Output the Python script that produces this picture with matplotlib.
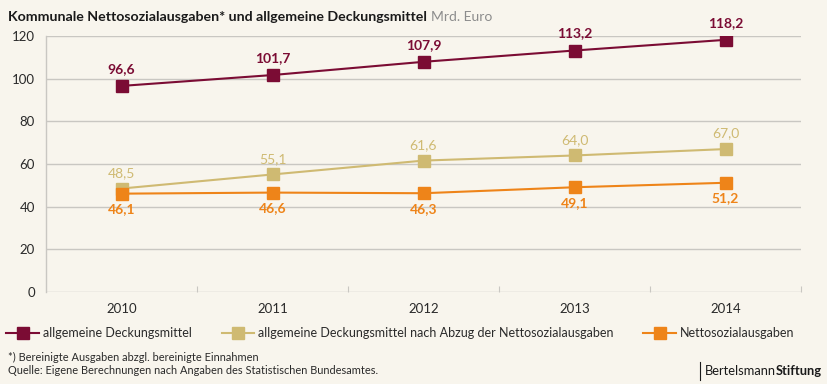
import matplotlib
matplotlib.use("Agg")
import matplotlib.pyplot as plt
from matplotlib.lines import Line2D

plt.rcParams['font.family'] = ['Lato', 'DejaVu Sans']

years = ["2010", "2011", "2012", "2013", "2014"]
deckung = [96.6, 101.7, 107.9, 113.2, 118.2]
nach_abzug = [48.5, 55.1, 61.6, 64.0, 67.0]
netto = [46.1, 46.6, 46.3, 49.1, 51.2]
yticks = [0, 20, 40, 60, 80, 100, 120]

names = ["allgemeine Deckungsmittel",
         "allgemeine Deckungsmittel nach Abzug der Nettosozialausgaben",
         "Nettosozialausgaben"]
colors = ["#7b0c34", "#cfba72", "#ee8419"]
bg = "#f8f5ed"
grid = "#c9c7c2"
txt = "#2a2a2a"

fig = plt.figure(figsize=(8.28, 3.84), dpi=100, facecolor=bg)
ax = fig.add_axes([46/828, 1-292/384, (801-46)/828, (292-36)/384])
ax.set_facecolor(bg)

x = list(range(len(years)))
series = [deckung, nach_abzug, netto]
for vals, c in zip(series, colors):
    ax.plot(x, vals, color=c, lw=1.5, marker="s", ms=8.5, zorder=3)

def fmt(v):
    return f"{v:.1f}".replace(".", ",")

for xi, v in zip(x, deckung):
    ax.annotate(fmt(v), (xi, v), xytext=(0, 8), textcoords="offset points",
                ha="center", va="bottom", color=colors[0], fontsize=10, fontweight="bold")
for xi, v in zip(x, nach_abzug):
    ax.annotate(fmt(v), (xi, v), xytext=(0, 7), textcoords="offset points",
                ha="center", va="bottom", color=colors[1], fontsize=10)
for xi, v in zip(x, netto):
    ax.annotate(fmt(v), (xi, v), xytext=(0, -7), textcoords="offset points",
                ha="center", va="top", color=colors[2], fontsize=10, fontweight="bold")

ax.set_xlim(-0.5, len(years) - 0.5)
ax.set_ylim(0, 120)
ax.set_yticks(yticks)
ax.set_yticklabels([str(t) for t in yticks])
ax.set_xticks(x)
ax.set_xticklabels(years)
ax.set_xticks([i + 0.5 for i in x], minor=True)
ax.tick_params(axis="x", which="major", length=0, pad=8, labelsize=9.5, labelcolor=txt)
ax.tick_params(axis="x", which="minor", direction="in", length=4, width=0.8, color=grid)
ax.tick_params(axis="y", length=0, pad=8, labelsize=9.5, labelcolor=txt)
ax.grid(axis="y", color=grid, lw=1.0, zorder=0)
for s in ["top", "right", "bottom"]:
    ax.spines[s].set_visible(False)
ax.spines["left"].set_color(grid)
ax.spines["left"].set_linewidth(1.0)

handles = [Line2D([], [], color=c, lw=1.5, marker="s", ms=8.5) for c in colors]
fig.legend(handles, names, loc="center left", bbox_to_anchor=(4/828, 1-333/384),
           ncol=3, frameon=False, fontsize=9, handlelength=2.6, handletextpad=0.3,
           columnspacing=2.4, borderaxespad=0, borderpad=0.2, labelcolor=txt)

t = fig.text(8/828, 1-17/384, "Kommunale Nettosozialausgaben* und allgemeine Deckungsmittel",
             fontsize=10.2, fontweight="bold", color="#1a1a1a", va="center", ha="left")
fig.canvas.draw()
bb = t.get_window_extent()
fig.text((bb.x1 + 4)/828, 1-17/384, "Mrd. Euro", fontsize=10, color="#8c8c8c",
         va="center", ha="left")

fig.text(8/828, 1-357/384, "*) Bereinigte Ausgaben abzgl. bereinigte Einnahmen",
         fontsize=7.9, color=txt, va="center", ha="left")
fig.text(8/828, 1-371/384, "Quelle: Eigene Berechnungen nach Angaben des Statistischen Bundesamtes.",
         fontsize=7.9, color=txt, va="center", ha="left")

st = fig.text(822/828, 1-371/384, "Stiftung", fontsize=9.3, fontweight="bold",
              color="#1a1a1a", va="center", ha="right")
fig.canvas.draw()
bb2 = st.get_window_extent()
bt = fig.text(bb2.x0/828, 1-371/384, "Bertelsmann", fontsize=9.3, color="#1a1a1a",
              va="center", ha="right")
fig.canvas.draw()
bb3 = bt.get_window_extent()
fig.add_artist(Line2D([(bb3.x0 - 5)/828]*2, [1-380/384, 1-362/384], color="#1a1a1a", lw=0.8))

fig.savefig("out.png", dpi=100, facecolor=bg)
